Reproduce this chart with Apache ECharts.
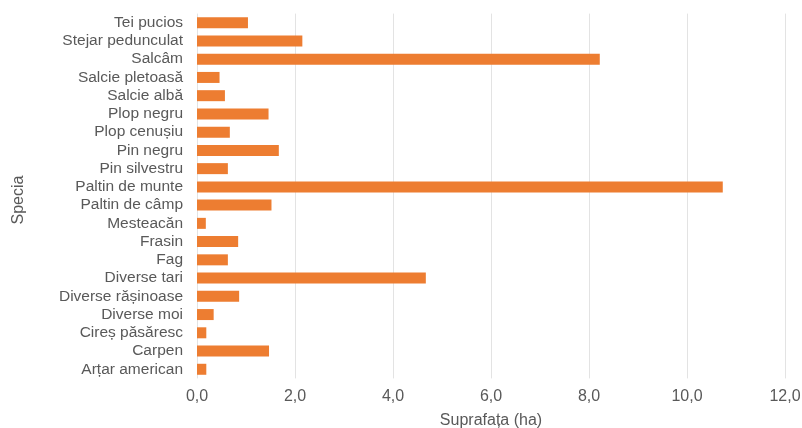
<!DOCTYPE html>
<html>
<head>
<meta charset="utf-8">
<script src="https://cdn.jsdelivr.net/npm/echarts@6/dist/echarts.min.js"></script>
<style>
html,body{margin:0;padding:0;background:#fff;}
#chart{width:802px;height:428px;}
</style>
</head>
<body>
<div id="chart"></div>
<script>
// Categories listed bottom-to-top (ECharts category y axis starts at the bottom)
const species = [
  "Arțar american", "Carpen", "Cireș păsăresc", "Diverse moi", "Diverse rășinoase",
  "Diverse tari", "Fag", "Frasin", "Mesteacăn", "Paltin de câmp",
  "Paltin de munte", "Pin silvestru", "Pin negru", "Plop cenușiu", "Plop negru",
  "Salcie albă", "Salcie pletoasă", "Salcâm", "Stejar pedunculat", "Tei pucios"
];
const area = [
  0.19, 1.47, 0.19, 0.34, 0.86,
  4.67, 0.63, 0.84, 0.18, 1.52,
  10.73, 0.63, 1.67, 0.67, 1.46,
  0.57, 0.46, 8.22, 2.15, 1.04
];
const xTicks = [0, 2, 4, 6, 8, 10, 12];

const chart = echarts.init(document.getElementById('chart'), null, {renderer: 'canvas'});
const font = 'Liberation Sans, Arial, sans-serif';
chart.setOption({
  animation: false,
  backgroundColor: '#ffffff',
  grid: {left: 197, right: 17, top: 13.6, bottom: 49.6, containLabel: false, outerBoundsMode: 'none'},
  xAxis: {
    type: 'value',
    min: xTicks[0],
    max: xTicks[xTicks.length - 1],
    interval: 2,
    name: 'Suprafața (ha)',
    nameLocation: 'middle',
    nameGap: 34,
    nameTextStyle: {color: '#595959', fontSize: 16, fontFamily: font},
    axisLine: {show: false},
    axisTick: {show: false},
    axisLabel: {
      color: '#595959', fontSize: 16, fontFamily: font, margin: 10,
      formatter: v => v.toFixed(1).replace('.', ',')
    },
    splitLine: {show: true, lineStyle: {color: '#e3e3e3', width: 1}}
  },
  yAxis: {
    type: 'category',
    data: species,
    name: 'Specia',
    nameLocation: 'middle',
    nameRotate: 90,
    nameGap: 170,
    nameTextStyle: {color: '#595959', fontSize: 16, fontFamily: font, padding: [0, 8, 0, 0]},
    axisLine: {show: false},
    axisTick: {show: false},
    axisLabel: {color: '#595959', fontSize: 15.5, fontFamily: font, margin: 14, interval: 0}
  },
  series: [{
    type: 'bar',
    data: area,
    barWidth: 11,
    itemStyle: {color: '#ed7d31'}
  }]
});
</script>
</body>
</html>
